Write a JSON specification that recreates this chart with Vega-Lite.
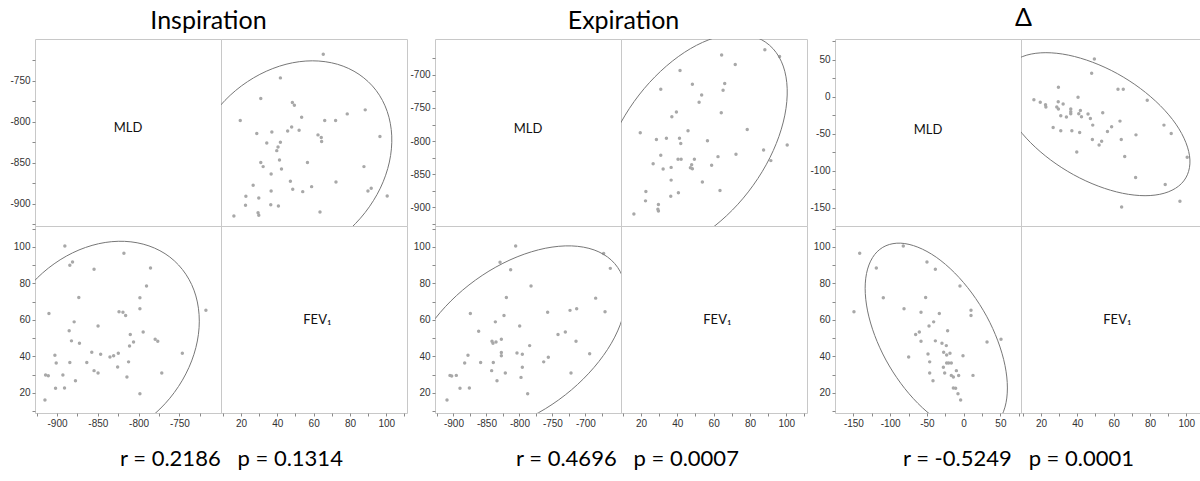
{
 "$schema": "https://vega.github.io/schema/vega-lite/v6.json",
 "background": "white",
 "padding": {"left": 9, "top": 5, "right": 0, "bottom": 0},
 "spacing": 1,
 "datasets": {
  "p1": [
   {"mld": -890.4, "fev1": 100.5}, {"mld": -818, "fev1": 96.5}, {"mld": -881, "fev1": 91.7}, {"mld": -884.3, "fev1": 89.9}, {"mld": -854.6, "fev1": 87.7},
   {"mld": -785.4, "fev1": 88.4}, {"mld": -790.3, "fev1": 78.5}, {"mld": -873.3, "fev1": 72.3}, {"mld": -798.4, "fev1": 72.1}, {"mld": -798.4, "fev1": 66.1},
   {"mld": -717.5, "fev1": 65.3}, {"mld": -909.9, "fev1": 63.5}, {"mld": -824, "fev1": 64.4}, {"mld": -819.2, "fev1": 64.2}, {"mld": -815.9, "fev1": 62.4},
   {"mld": -879, "fev1": 58.9}, {"mld": -849.7, "fev1": 56.6}, {"mld": -885.1, "fev1": 54}, {"mld": -810.2, "fev1": 52}, {"mld": -794.4, "fev1": 53.4},
   {"mld": -882.3, "fev1": 48.5}, {"mld": -872.5, "fev1": 47.2}, {"mld": -806.2, "fev1": 47.9}, {"mld": -811.1, "fev1": 45.7}, {"mld": -779.7, "fev1": 49.4},
   {"mld": -776.5, "fev1": 48.3}, {"mld": -902.6, "fev1": 40.6}, {"mld": -857.4, "fev1": 42.3}, {"mld": -846.5, "fev1": 41.2}, {"mld": -835.1, "fev1": 39.7},
   {"mld": -830.6, "fev1": 40.4}, {"mld": -824.9, "fev1": 41.7}, {"mld": -746.4, "fev1": 41.7}, {"mld": -901, "fev1": 36.4}, {"mld": -884.3, "fev1": 36.6},
   {"mld": -863.5, "fev1": 36.6}, {"mld": -825.7, "fev1": 34.2}, {"mld": -812.3, "fev1": 37}, {"mld": -854.6, "fev1": 32.2}, {"mld": -849.7, "fev1": 30.9},
   {"mld": -914, "fev1": 29.8}, {"mld": -910.7, "fev1": 29.4}, {"mld": -892.8, "fev1": 29.8}, {"mld": -771.6, "fev1": 30.9}, {"mld": -814.3, "fev1": 28.7},
   {"mld": -877.4, "fev1": 26.7}, {"mld": -901.8, "fev1": 22.5}, {"mld": -890.8, "fev1": 22.7}, {"mld": -798.4, "fev1": 19.6}, {"mld": -914.8, "fev1": 16.1}
  ],
  "p2": [
   {"mld": -805.7, "fev1": 100.5}, {"mld": -672.3, "fev1": 96.3}, {"mld": -829.4, "fev1": 91.5}, {"mld": -662.2, "fev1": 88.2}, {"mld": -813.3, "fev1": 87.5},
   {"mld": -782.4, "fev1": 78.5}, {"mld": -819.8, "fev1": 72.3}, {"mld": -684.4, "fev1": 71.9}, {"mld": -874.4, "fev1": 63.5}, {"mld": -823.4, "fev1": 62.4},
   {"mld": -757.2, "fev1": 64.2}, {"mld": -723.3, "fev1": 65.2}, {"mld": -713.2, "fev1": 66.1}, {"mld": -670.2, "fev1": 64.4}, {"mld": -836.5, "fev1": 58.9},
   {"mld": -799.6, "fev1": 56.6}, {"mld": -861.8, "fev1": 53.8}, {"mld": -741.5, "fev1": 52}, {"mld": -730.4, "fev1": 53.4}, {"mld": -841.6, "fev1": 48.3},
   {"mld": -835.5, "fev1": 47.9}, {"mld": -840.1, "fev1": 47.2}, {"mld": -827.4, "fev1": 49.4}, {"mld": -784.5, "fev1": 45.9}, {"mld": -714.2, "fev1": 48.3},
   {"mld": -878, "fev1": 40.6}, {"mld": -827.4, "fev1": 42.1}, {"mld": -827.4, "fev1": 40.4}, {"mld": -803.7, "fev1": 41.9}, {"mld": -795.6, "fev1": 41.2},
   {"mld": -756.2, "fev1": 39.5}, {"mld": -763.2, "fev1": 37}, {"mld": -693.5, "fev1": 41.5}, {"mld": -883, "fev1": 36.4}, {"mld": -858.8, "fev1": 36.6},
   {"mld": -839.6, "fev1": 36.6}, {"mld": -795.6, "fev1": 34}, {"mld": -842.1, "fev1": 32.2}, {"mld": -821.4, "fev1": 30.9}, {"mld": -721.8, "fev1": 30.9},
   {"mld": -797.6, "fev1": 28.5}, {"mld": -834, "fev1": 26.7}, {"mld": -905.3, "fev1": 29.6}, {"mld": -902.7, "fev1": 29.3}, {"mld": -895.7, "fev1": 29.6},
   {"mld": -890.1, "fev1": 22.5}, {"mld": -875.9, "fev1": 22.7}, {"mld": -787.5, "fev1": 19.6}, {"mld": -909.8, "fev1": 16.1}
  ],
  "p3": [
   {"mld": -82.1, "fev1": 100.5}, {"mld": -141.4, "fev1": 96.5}, {"mld": -49.9, "fev1": 91.7}, {"mld": -118.8, "fev1": 88.4}, {"mld": -38.5, "fev1": 87.7},
   {"mld": -5, "fev1": 78.5}, {"mld": -109.3, "fev1": 72.1}, {"mld": -51.7, "fev1": 72.3}, {"mld": -149.2, "fev1": 64.4}, {"mld": -81.1, "fev1": 66.1},
   {"mld": -58, "fev1": 64.2}, {"mld": 10, "fev1": 65.3}, {"mld": 10, "fev1": 62.4}, {"mld": -33.1, "fev1": 63.5}, {"mld": -40.8, "fev1": 58.9},
   {"mld": -47.1, "fev1": 56.6}, {"mld": -60.3, "fev1": 53.4}, {"mld": -65.3, "fev1": 52}, {"mld": -21.8, "fev1": 54}, {"mld": -58, "fev1": 48.3},
   {"mld": -38.5, "fev1": 48.5}, {"mld": -29.5, "fev1": 47.2}, {"mld": -23.6, "fev1": 45.9}, {"mld": 31.8, "fev1": 47.9}, {"mld": 50.8, "fev1": 49.4},
   {"mld": -74.8, "fev1": 39.7}, {"mld": -48.5, "fev1": 41.3}, {"mld": -27.2, "fev1": 42.3}, {"mld": -23.1, "fev1": 40.8}, {"mld": -18.6, "fev1": 41.7},
   {"mld": -0.9, "fev1": 40.4}, {"mld": -46.2, "fev1": 37}, {"mld": -23.1, "fev1": 36.4}, {"mld": -20.4, "fev1": 36.4}, {"mld": -16.8, "fev1": 36.4},
   {"mld": -27.6, "fev1": 34}, {"mld": -9.9, "fev1": 32.2}, {"mld": -46.2, "fev1": 30.9}, {"mld": -25.8, "fev1": 30.9}, {"mld": -16.8, "fev1": 29.6},
   {"mld": -14, "fev1": 28.7}, {"mld": -6.8, "fev1": 29.5}, {"mld": 12.7, "fev1": 29.6}, {"mld": -41.7, "fev1": 26.7}, {"mld": -14, "fev1": 22.7},
   {"mld": -10.9, "fev1": 22.5}, {"mld": -7.7, "fev1": 19.6}, {"mld": -4.1, "fev1": 16.1}
  ],
  "e1": [
   {"t": 0, "mld": -725.6, "fev1": 59.3}, {"t": 15, "mld": -729.8, "fev1": 73.1}, {"t": 30, "mld": -742.1, "fev1": 85.0}, {"t": 45, "mld": -761.7, "fev1": 94.4},
   {"t": 60, "mld": -787.3, "fev1": 100.5}, {"t": 75, "mld": -817.1, "fev1": 103.0}, {"t": 90, "mld": -849, "fev1": 101.7}, {"t": 105, "mld": -880.9, "fev1": 96.7},
   {"t": 120, "mld": -910.7, "fev1": 88.3}, {"t": 135, "mld": -936.3, "fev1": 77.1}, {"t": 150, "mld": -955.9, "fev1": 63.8}, {"t": 165, "mld": -968.2, "fev1": 49.4},
   {"t": 180, "mld": -972.4, "fev1": 34.9}, {"t": 195, "mld": -968.2, "fev1": 21.1}, {"t": 210, "mld": -955.9, "fev1": 9.2}, {"t": 225, "mld": -936.3, "fev1": -0.2},
   {"t": 240, "mld": -910.7, "fev1": -6.3}, {"t": 255, "mld": -880.9, "fev1": -8.8}, {"t": 270, "mld": -849, "fev1": -7.5}, {"t": 285, "mld": -817.1, "fev1": -2.5},
   {"t": 300, "mld": -787.3, "fev1": 5.9}, {"t": 315, "mld": -761.7, "fev1": 17.1}, {"t": 330, "mld": -742.1, "fev1": 30.4}, {"t": 345, "mld": -729.8, "fev1": 44.8}
  ],
  "e2": [
   {"t": 0, "mld": -638.5, "fev1": 73.2}, {"t": 15, "mld": -644.1, "fev1": 84.1}, {"t": 30, "mld": -660.6, "fev1": 92.7}, {"t": 45, "mld": -686.8, "fev1": 98.3},
   {"t": 60, "mld": -721, "fev1": 100.5}, {"t": 75, "mld": -760.8, "fev1": 99.2}, {"t": 90, "mld": -803.5, "fev1": 94.5}, {"t": 105, "mld": -846.2, "fev1": 86.7},
   {"t": 120, "mld": -886, "fev1": 76.3}, {"t": 135, "mld": -920.2, "fev1": 64.0}, {"t": 150, "mld": -946.4, "fev1": 50.8}, {"t": 165, "mld": -962.9, "fev1": 37.4},
   {"t": 180, "mld": -968.5, "fev1": 24.8}, {"t": 195, "mld": -962.9, "fev1": 13.9}, {"t": 210, "mld": -946.4, "fev1": 5.3}, {"t": 225, "mld": -920.2, "fev1": -0.3},
   {"t": 240, "mld": -886, "fev1": -2.5}, {"t": 255, "mld": -846.2, "fev1": -1.2}, {"t": 270, "mld": -803.5, "fev1": 3.5}, {"t": 285, "mld": -760.8, "fev1": 11.3},
   {"t": 300, "mld": -721, "fev1": 21.7}, {"t": 315, "mld": -686.8, "fev1": 34}, {"t": 330, "mld": -660.6, "fev1": 47.2}, {"t": 345, "mld": -644.1, "fev1": 60.6}
  ],
  "e3": [
   {"t": 0, "mld": 59.5, "fev1": 22.7}, {"t": 15, "mld": 56.2, "fev1": 35.1}, {"t": 30, "mld": 46.5, "fev1": 48.5}, {"t": 45, "mld": 31.2, "fev1": 62},
   {"t": 60, "mld": 11.1, "fev1": 74.7}, {"t": 75, "mld": -12.2, "fev1": 85.7}, {"t": 90, "mld": -37.25, "fev1": 94.3}, {"t": 105, "mld": -62.3, "fev1": 99.8},
   {"t": 120, "mld": -85.6, "fev1": 102}, {"t": 135, "mld": -105.7, "fev1": 100.6}, {"t": 150, "mld": -121, "fev1": 95.8}, {"t": 165, "mld": -130.7, "fev1": 87.8},
   {"t": 180, "mld": -134, "fev1": 77.3}, {"t": 195, "mld": -130.7, "fev1": 64.9}, {"t": 210, "mld": -121, "fev1": 51.5}, {"t": 225, "mld": -105.7, "fev1": 38},
   {"t": 240, "mld": -85.6, "fev1": 25.3}, {"t": 255, "mld": -62.3, "fev1": 14.3}, {"t": 270, "mld": -37.25, "fev1": 5.7}, {"t": 285, "mld": -12.2, "fev1": 0.2},
   {"t": 300, "mld": 11.1, "fev1": -2}, {"t": 315, "mld": 31.2, "fev1": -0.6}, {"t": 330, "mld": 46.5, "fev1": 4.2}, {"t": 345, "mld": 56.2, "fev1": 12.2}
  ]
 },
 "hconcat": [
  {
   "title": {"text": "Inspiration", "fontSize": 25, "offset": 5, "anchor": "middle", "dx": 0},
   "spacing": 0,
   "vconcat": [
    {
     "columns": 2, "spacing": 0, "bounds": "flush",
     "title": {"text": "r = 0.2186\u00a0\u00a0\u00a0p = 0.1314", "orient": "bottom", "fontSize": 22, "offset": 20, "anchor": "middle", "dx": 23},
     "concat": [
      {
       "width": 186, "height": 187,
       "data": {"values": [{"label": "MLD"}]},
       "mark": {"type": "text", "font": "Lato", "fontSize": 13, "color": "#111111"},
       "encoding": {
        "text": {"field": "label"},
        "y": {"datum": -807, "type": "quantitative", "scale": {"domain": [-927, -699], "nice": false, "zero": false},
              "axis": {"values": [-925, -900, -875, -850, -825, -800, -775, -750, -725], "labelExpr": "datum.value % 50 === 0 ? '' + datum.value : ''"}}
       }
      },
      {
       "width": 186, "height": 187,
       "encoding": {
        "x": {"field": "fev1", "type": "quantitative", "scale": {"domain": [9, 111.4], "nice": false, "zero": false}, "axis": null},
        "y": {"field": "mld", "type": "quantitative", "scale": {"domain": [-927, -699], "nice": false, "zero": false}, "axis": null}
       },
       "layer": [
        {"data": {"name": "p1"}, "mark": {"type": "circle", "size": 12, "color": "#a8a8a8", "opacity": 1}},
        {"data": {"name": "e1"}, "mark": {"type": "line", "color": "#777777", "strokeWidth": 1, "interpolate": "cardinal-closed", "clip": true},
         "encoding": {"order": {"field": "t", "type": "quantitative"}}}
       ]
      },
      {
       "width": 186, "height": 187,
       "encoding": {
        "x": {"field": "mld", "type": "quantitative", "scale": {"domain": [-927, -699], "nice": false, "zero": false},
              "axis": {"values": [-925, -900, -875, -850, -825, -800, -775, -750, -725], "labelExpr": "datum.value % 50 === 0 ? '' + datum.value : ''"}},
        "y": {"field": "fev1", "type": "quantitative", "scale": {"domain": [9, 111.4], "nice": false, "zero": false},
              "axis": {"values": [10, 20, 30, 40, 50, 60, 70, 80, 90, 100, 110], "labelExpr": "datum.value % 20 === 0 ? '' + datum.value : ''"}}
       },
       "layer": [
        {"data": {"name": "p1"}, "mark": {"type": "circle", "size": 12, "color": "#a8a8a8", "opacity": 1}},
        {"data": {"name": "e1"}, "mark": {"type": "line", "color": "#777777", "strokeWidth": 1, "interpolate": "cardinal-closed", "clip": true},
         "encoding": {"order": {"field": "t", "type": "quantitative"}}}
       ]
      },
      {
       "width": 186, "height": 187,
       "data": {"values": [{"label": "FEV₁"}]},
       "mark": {"type": "text", "font": "Lato", "fontSize": 13, "color": "#111111"},
       "encoding": {
        "text": {"field": "label"},
        "x": {"datum": 62, "type": "quantitative", "scale": {"domain": [9, 111.4], "nice": false, "zero": false},
              "axis": {"values": [10, 20, 30, 40, 50, 60, 70, 80, 90, 100, 110], "labelExpr": "datum.value % 20 === 0 ? '' + datum.value : ''"}}
       }
      }
     ]
    }
   ]
  },
  {
   "title": {"text": "Expiration", "fontSize": 25, "offset": 5, "anchor": "middle", "dx": 15},
   "spacing": 0,
   "vconcat": [
    {
     "columns": 2, "spacing": 0, "bounds": "flush",
     "title": {"text": "r = 0.4696\u00a0\u00a0\u00a0p = 0.0007", "orient": "bottom", "fontSize": 22, "offset": 20, "anchor": "middle", "dx": 19},
     "concat": [
      {
       "width": 186, "height": 187,
       "data": {"values": [{"label": "MLD"}]},
       "mark": {"type": "text", "font": "Lato", "fontSize": 13, "color": "#111111"},
       "encoding": {
        "text": {"field": "label"},
        "y": {"datum": -782, "type": "quantitative", "scale": {"domain": [-928, -646], "nice": false, "zero": false},
              "axis": {"values": [-925, -900, -875, -850, -825, -800, -775, -750, -725, -700, -675], "labelExpr": "datum.value % 50 === 0 ? '' + datum.value : ''"}}
       }
      },
      {
       "width": 186, "height": 187,
       "encoding": {
        "x": {"field": "fev1", "type": "quantitative", "scale": {"domain": [9, 111.4], "nice": false, "zero": false}, "axis": null},
        "y": {"field": "mld", "type": "quantitative", "scale": {"domain": [-928, -646], "nice": false, "zero": false}, "axis": null}
       },
       "layer": [
        {"data": {"name": "p2"}, "mark": {"type": "circle", "size": 12, "color": "#a8a8a8", "opacity": 1}},
        {"data": {"name": "e2"}, "mark": {"type": "line", "color": "#777777", "strokeWidth": 1, "interpolate": "cardinal-closed", "clip": true},
         "encoding": {"order": {"field": "t", "type": "quantitative"}}}
       ]
      },
      {
       "width": 186, "height": 187,
       "encoding": {
        "x": {"field": "mld", "type": "quantitative", "scale": {"domain": [-928, -646], "nice": false, "zero": false},
              "axis": {"values": [-925, -900, -875, -850, -825, -800, -775, -750, -725, -700, -675], "labelExpr": "datum.value % 50 === 0 ? '' + datum.value : ''"}},
        "y": {"field": "fev1", "type": "quantitative", "scale": {"domain": [9, 111.4], "nice": false, "zero": false},
              "axis": {"values": [10, 20, 30, 40, 50, 60, 70, 80, 90, 100, 110], "labelExpr": "datum.value % 20 === 0 ? '' + datum.value : ''"}}
       },
       "layer": [
        {"data": {"name": "p2"}, "mark": {"type": "circle", "size": 12, "color": "#a8a8a8", "opacity": 1}},
        {"data": {"name": "e2"}, "mark": {"type": "line", "color": "#777777", "strokeWidth": 1, "interpolate": "cardinal-closed", "clip": true},
         "encoding": {"order": {"field": "t", "type": "quantitative"}}}
       ]
      },
      {
       "width": 186, "height": 187,
       "data": {"values": [{"label": "FEV₁"}]},
       "mark": {"type": "text", "font": "Lato", "fontSize": 13, "color": "#111111"},
       "encoding": {
        "text": {"field": "label"},
        "x": {"datum": 62, "type": "quantitative", "scale": {"domain": [9, 111.4], "nice": false, "zero": false},
              "axis": {"values": [10, 20, 30, 40, 50, 60, 70, 80, 90, 100, 110], "labelExpr": "datum.value % 20 === 0 ? '' + datum.value : ''"}}
       }
      }
     ]
    }
   ]
  },
  {
   "title": {"text": "Δ", "fontSize": 25, "offset": 5, "anchor": "middle", "dx": 15},
   "spacing": 0,
   "vconcat": [
    {
     "columns": 2, "spacing": 0, "bounds": "flush",
     "title": {"text": "r = -0.5249\u00a0\u00a0\u00a0p = 0.0001", "orient": "bottom", "fontSize": 22, "offset": 20, "anchor": "middle", "dx": 10},
     "concat": [
      {
       "width": 186, "height": 187,
       "data": {"values": [{"label": "MLD"}]},
       "mark": {"type": "text", "font": "Lato", "fontSize": 13, "color": "#111111"},
       "encoding": {
        "text": {"field": "label"},
        "y": {"datum": -45, "type": "quantitative", "scale": {"domain": [-175, 78], "nice": false, "zero": false},
              "axis": {"values": [-150, -125, -100, -75, -50, -25, 0, 25, 50, 75], "labelExpr": "datum.value % 50 === 0 ? '' + datum.value : ''"}}
       }
      },
      {
       "width": 186, "height": 187,
       "encoding": {
        "x": {"field": "fev1", "type": "quantitative", "scale": {"domain": [9, 111.4], "nice": false, "zero": false}, "axis": null},
        "y": {"field": "mld", "type": "quantitative", "scale": {"domain": [-175, 78], "nice": false, "zero": false}, "axis": null}
       },
       "layer": [
        {"data": {"name": "p3"}, "mark": {"type": "circle", "size": 12, "color": "#a8a8a8", "opacity": 1}},
        {"data": {"name": "e3"}, "mark": {"type": "line", "color": "#777777", "strokeWidth": 1, "interpolate": "cardinal-closed", "clip": true},
         "encoding": {"order": {"field": "t", "type": "quantitative"}}}
       ]
      },
      {
       "width": 186, "height": 187,
       "encoding": {
        "x": {"field": "mld", "type": "quantitative", "scale": {"domain": [-175, 78], "nice": false, "zero": false},
              "axis": {"values": [-150, -125, -100, -75, -50, -25, 0, 25, 50, 75], "labelExpr": "datum.value % 50 === 0 ? '' + datum.value : ''"}},
        "y": {"field": "fev1", "type": "quantitative", "scale": {"domain": [9, 111.4], "nice": false, "zero": false},
              "axis": {"values": [10, 20, 30, 40, 50, 60, 70, 80, 90, 100, 110], "labelExpr": "datum.value % 20 === 0 ? '' + datum.value : ''"}}
       },
       "layer": [
        {"data": {"name": "p3"}, "mark": {"type": "circle", "size": 12, "color": "#a8a8a8", "opacity": 1}},
        {"data": {"name": "e3"}, "mark": {"type": "line", "color": "#777777", "strokeWidth": 1, "interpolate": "cardinal-closed", "clip": true},
         "encoding": {"order": {"field": "t", "type": "quantitative"}}}
       ]
      },
      {
       "width": 186, "height": 187,
       "data": {"values": [{"label": "FEV₁"}]},
       "mark": {"type": "text", "font": "Lato", "fontSize": 13, "color": "#111111"},
       "encoding": {
        "text": {"field": "label"},
        "x": {"datum": 62, "type": "quantitative", "scale": {"domain": [9, 111.4], "nice": false, "zero": false},
              "axis": {"values": [10, 20, 30, 40, 50, 60, 70, 80, 90, 100, 110], "labelExpr": "datum.value % 20 === 0 ? '' + datum.value : ''"}}
       }
      }
     ]
    }
   ]
  }
 ],
 "config": {
  "view": {"stroke": "#c8c8c8"},
  "axis": {"domain": false, "grid": false, "title": null, "labelFont": "Liberation Sans", "labelFontSize": 10, "labelColor": "#333333",
           "tickColor": "#8a8a8a", "tickSize": 3, "labelPadding": 2, "labelOverlap": false, "labelFlush": false, "labelBound": false},
  "title": {"font": "Lato", "fontWeight": "normal", "color": "#000000"},
  "concat": {"spacing": 0}
 }
}
